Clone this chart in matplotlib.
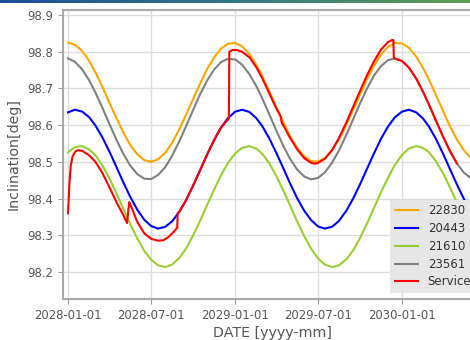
import numpy as np
import pandas as pd
import matplotlib
matplotlib.use("Agg")
import matplotlib.pyplot as plt

# semi-monthly dates (1st and 16th) for the four reference satellites
dates = pd.to_datetime([f"{y}-{m:02d}-{d:02d}"
                        for y in (2028, 2029, 2030)
                        for m in range(1, 13) if not (y == 2030 and m > 6)
                        for d in (1, 16)])

incl_22830 = [98.825, 98.8195, 98.802, 98.776, 98.744, 98.705, 98.660, 98.619, 98.580, 98.546,
              98.520, 98.5045, 98.500, 98.507, 98.525, 98.552, 98.590, 98.630, 98.672, 98.713,
              98.754, 98.785, 98.809, 98.822,
              98.824, 98.815, 98.794, 98.765, 98.734, 98.694, 98.649, 98.608, 98.570, 98.539,
              98.515, 98.502, 98.5007, 98.510, 98.532, 98.561, 98.600, 98.641, 98.683, 98.724,
              98.763, 98.7925, 98.813, 98.824,
              98.823, 98.811, 98.787, 98.756, 98.724, 98.683, 98.638, 98.597, 98.561, 98.532,
              98.510, 98.5007]

incl_20443 = [98.635, 98.642, 98.637, 98.622, 98.599, 98.567, 98.527, 98.486, 98.444, 98.405,
              98.3685, 98.342, 98.325, 98.318, 98.323, 98.338, 98.3645, 98.397, 98.436, 98.477,
              98.5215, 98.560, 98.594, 98.619,
              98.637, 98.642, 98.636, 98.619, 98.5975, 98.565, 98.524, 98.483, 98.441, 98.402,
              98.3665, 98.341, 98.324, 98.318, 98.323, 98.339, 98.3665, 98.400, 98.4385, 98.480,
              98.524, 98.563, 98.5955, 98.621,
              98.637, 98.642, 98.635, 98.618, 98.596, 98.563, 98.5215, 98.480, 98.4385, 98.400,
              98.3645, 98.339]

incl_21610 = [98.526, 98.540, 98.543, 98.534, 98.518, 98.491, 98.454, 98.414, 98.372, 98.331,
              98.290, 98.257, 98.233, 98.218, 98.213, 98.220, 98.2385, 98.265, 98.300, 98.339,
              98.384, 98.425, 98.464, 98.497,
              98.523, 98.538, 98.543, 98.536, 98.522, 98.497, 98.461, 98.4225, 98.381, 98.339,
              98.297, 98.263, 98.237, 98.220, 98.213, 98.218, 98.234, 98.259, 98.292, 98.331,
              98.375, 98.417, 98.456, 98.491,
              98.519, 98.536, 98.543, 98.538, 98.526, 98.502, 98.4685, 98.4305, 98.389, 98.347,
              98.3045, 98.269]

incl_23561 = [98.782, 98.773, 98.752, 98.723, 98.689, 98.648, 98.602, 98.560, 98.522, 98.490,
              98.466, 98.454, 98.453, 98.464, 98.486, 98.517, 98.557, 98.599, 98.642, 98.684,
              98.723, 98.752, 98.772, 98.781,
              98.779, 98.765, 98.739, 98.7065, 98.673, 98.631, 98.585, 98.544, 98.508, 98.480,
              98.460, 98.452, 98.456, 98.471, 98.498, 98.531, 98.5735, 98.616, 98.659, 98.699,
              98.736, 98.761, 98.777, 98.782,
              98.775, 98.757, 98.727, 98.691, 98.656, 98.613, 98.568, 98.529, 98.496, 98.471,
              98.455, 98.452]

service_dates = pd.to_datetime([
    "2028-01-01", "2028-01-04", "2028-01-07", "2028-01-11", "2028-01-17", "2028-01-23",
    "2028-02-01", "2028-02-16", "2028-03-01", "2028-03-16", "2028-04-01", "2028-04-16",
    "2028-05-01", "2028-05-09", "2028-05-14", "2028-05-16", "2028-06-01", "2028-06-16",
    "2028-07-01", "2028-07-16", "2028-07-27", "2028-08-08", "2028-08-20", "2028-08-27",
    "2028-08-28", "2028-09-01", "2028-09-16", "2028-10-01", "2028-10-16", "2028-11-01",
    "2028-11-16", "2028-12-01", "2028-12-16", "2028-12-18", "2028-12-19", "2028-12-26",
    "2029-01-05", "2029-01-16", "2029-02-01", "2029-02-16", "2029-03-01", "2029-03-16",
    "2029-04-01", "2029-04-10", "2029-04-13", "2029-04-16", "2029-05-01", "2029-05-16",
    "2029-06-01", "2029-06-16", "2029-06-25", "2029-07-01", "2029-07-16", "2029-08-01",
    "2029-08-16", "2029-09-01", "2029-09-16", "2029-10-01", "2029-10-16", "2029-11-01",
    "2029-11-16", "2029-12-01", "2029-12-10", "2029-12-13", "2029-12-14", "2029-12-16",
    "2030-01-01", "2030-01-16", "2030-02-01", "2030-02-16", "2030-03-01", "2030-03-16",
    "2030-04-01", "2030-04-16", "2030-05-01"])
service = [98.36, 98.44, 98.49, 98.515, 98.528, 98.532,
           98.530, 98.518, 98.500, 98.470, 98.430, 98.390,
           98.355, 98.333, 98.390, 98.385, 98.335, 98.305,
           98.290, 98.285, 98.286, 98.295, 98.310, 98.320,
           98.360, 98.3645, 98.397, 98.436, 98.477, 98.5215,
           98.560, 98.594, 98.615, 98.618, 98.800, 98.805,
           98.805, 98.800, 98.785, 98.758, 98.728, 98.688,
           98.645, 98.625, 98.605, 98.600, 98.565, 98.535,
           98.510, 98.497, 98.495, 98.497, 98.508, 98.532,
           98.565, 98.607, 98.650, 98.693, 98.735, 98.775,
           98.806, 98.826, 98.832, 98.832, 98.785, 98.782,
           98.775, 98.757, 98.727, 98.691, 98.656, 98.613,
           98.568, 98.529, 98.496]

xticks = pd.to_datetime(["2028-01-01", "2028-07-01", "2029-01-01", "2029-07-01", "2030-01-01"])
xticklabels = ["2028-01-01", "2028-07-01", "2029-01-01", "2029-07-01", "2030-01-01"]
yticks = [98.2, 98.3, 98.4, 98.5, 98.6, 98.7, 98.8, 98.9]

fig = plt.figure(figsize=(4.7, 3.4), dpi=100)

# thin coloured band along the top edge
band = fig.add_axes([0, 1 - 3 / 340, 1, 3 / 340])
band.imshow(np.linspace(0, 1, 256)[None, :], aspect="auto",
            cmap=matplotlib.colors.LinearSegmentedColormap.from_list("b", ["#1a4f96", "#2f7a86", "#5d9e50"]))
band.axis("off")

ax = fig.add_axes([63 / 470, 41 / 340, 419 / 470, 289 / 340])
ax.plot(dates, incl_22830, color="orange", lw=1.5, label="22830")
ax.plot(dates, incl_20443, color="blue", lw=1.5, label="20443")
ax.plot(dates, incl_21610, color="yellowgreen", lw=1.5, label="21610")
ax.plot(dates, incl_23561, color="gray", lw=1.5, label="23561")
ax.plot(service_dates, service, color="red", lw=1.5, label="Service")

ax.set_xlim(pd.Timestamp("2027-12-21"), pd.Timestamp("2030-06-25"))
ax.set_ylim(98.126, 98.914)
ax.set_xticks(xticks)
ax.set_xticklabels(xticklabels)
ax.set_yticks(yticks)
ax.set_yticklabels([f"{v:.1f}" for v in yticks])
ax.grid(color="#dcdcdc", lw=1)
ax.set_axisbelow(True)
ax.tick_params(labelsize=8.4, colors="#555555", length=3.5, color="#999999")
for s in ax.spines.values():
    s.set_color("#a8a8a8")
    s.set_linewidth(1.5)
ax.set_xlabel("DATE [yyyy-mm]", fontsize=10.3, color="#555555", labelpad=3)
ax.set_ylabel("Inclination[deg]", fontsize=10.3, color="#555555", labelpad=5)

leg = ax.legend(loc="lower right", fontsize=8.5, facecolor="#e6e6e6", edgecolor="none",
                framealpha=1, fancybox=False, labelspacing=0.4)
for t in leg.get_texts():
    t.set_color("#333333")

fig.savefig("out.png", dpi=100)
